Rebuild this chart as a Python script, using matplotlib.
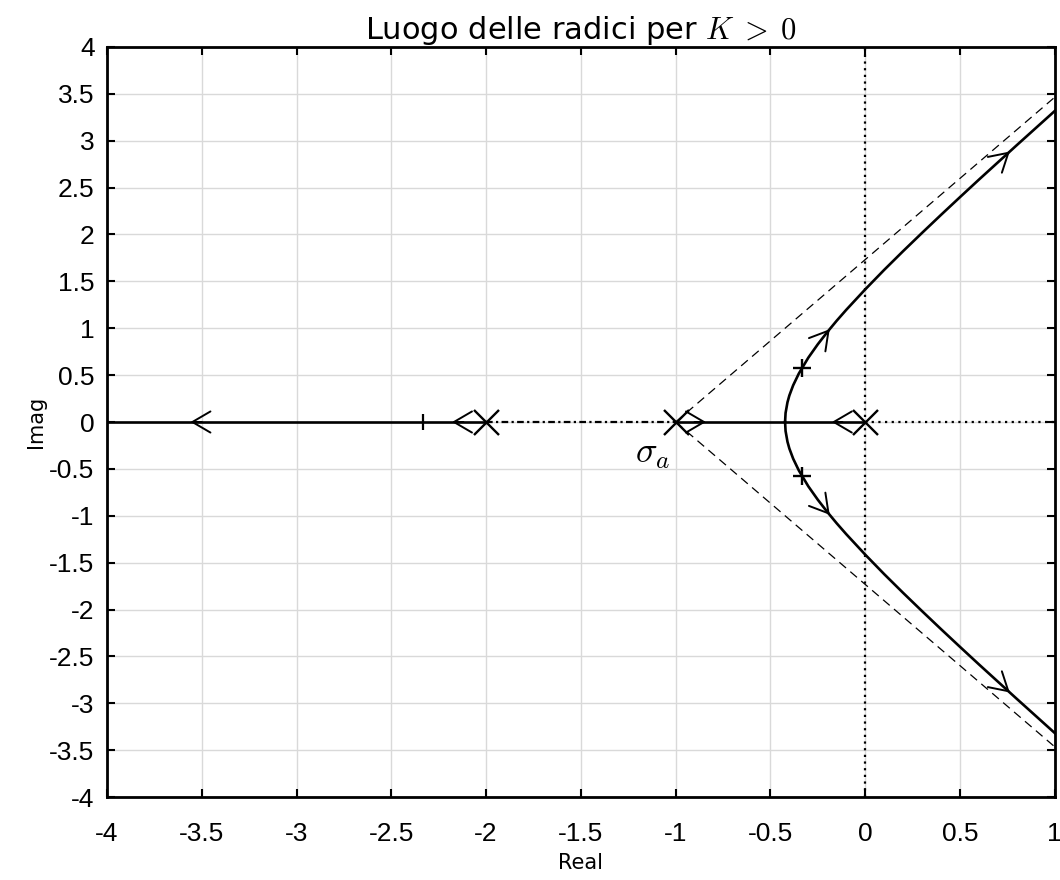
import matplotlib
matplotlib.use("Agg")
import matplotlib.pyplot as plt
import numpy as np

plt.rcParams['font.family'] = ['Liberation Sans', 'DejaVu Sans']
plt.rcParams['mathtext.fontset'] = 'cm'
plt.rcParams['axes.unicode_minus'] = False

# poli ad anello aperto
poli_re = [0.0, -1.0, -2.0]
poli_im = [0.0, 0.0, 0.0]

# ramo complesso superiore
ramo_re = [-0.4226, -0.42, -0.41, -0.40, -0.38, -0.35, -0.30, -0.25, -0.20, -0.15,
           -0.10, 0.0, 0.1, 0.2, 0.3, 0.4, 0.5, 0.6, 0.7, 0.8, 0.9, 1.0]
ramo_im = [0.0, 0.096, 0.210, 0.283, 0.391, 0.517, 0.686, 0.829, 0.959, 1.081,
           1.196, 1.414, 1.622, 1.822, 2.017, 2.209, 2.398, 2.585, 2.769, 2.953, 3.135, 3.317]

# asse reale
reale_sx = [-4.0, -2.0]
reale_centro = [-1.0, 0.0]
reale_tratto = [-2.0, -1.0]
reale_dx = [0.0, 1.0]

# asintoti
sigma_a = -1.0
asint_re = [-1.0, 1.0]
asint_im = [0.0, 3.464]

# punti per un valore di K
kp_re = [-0.333, -0.333]
kp_im = [0.577, -0.577]
kr_re = -2.333

# frecce (punta, coda)
frecce = [((-3.56, 0.0), (-3.50, 0.0)),
          ((-2.18, 0.0), (-2.12, 0.0)),
          ((-0.84, 0.0), (-0.90, 0.0)),
          ((-0.176, 0.0), (-0.12, 0.0)),
          ((-0.187, 0.99), (-0.197, 0.965)),
          ((0.763, 2.885), (0.753, 2.867)),
          ((-0.187, -0.99), (-0.197, -0.965)),
          ((0.763, -2.885), (0.753, -2.867))]

xticks = [-4, -3.5, -3, -2.5, -2, -1.5, -1, -0.5, 0, 0.5, 1]
yticks = [-4, -3.5, -3, -2.5, -2, -1.5, -1, -0.5, 0, 0.5, 1, 1.5, 2, 2.5, 3, 3.5, 4]

fig = plt.figure(figsize=(10.6, 8.8), dpi=100)
ax = fig.add_axes([0.101, 0.0943, 0.894, 0.8523])

ax.grid(True, color='#d9d9d9', linewidth=1.0)
ax.set_axisbelow(True)

# asse immaginario tratteggiato
ax.axvline(0, color='black', linewidth=1.6, linestyle=(0, (1, 2)))
ax.plot(reale_dx, [0, 0], color='black', linewidth=1.6, linestyle=(0, (1, 2)))
ax.plot(reale_tratto, [0, 0], color='black', linewidth=1.6, linestyle=(0, (3, 1.5, 1, 1.5)))

# asintoti
ax.plot(asint_re, asint_im, color='black', linewidth=0.9, linestyle=(0, (7, 4.5)))
ax.plot(asint_re, [-v for v in asint_im], color='black', linewidth=0.9, linestyle=(0, (7, 4.5)))

# luogo
ax.plot(reale_sx, [0, 0], color='black', linewidth=1.9)
ax.plot(reale_centro, [0, 0], color='black', linewidth=1.9)
ax.plot(ramo_re, ramo_im, color='black', linewidth=1.9)
ax.plot(ramo_re, [-v for v in ramo_im], color='black', linewidth=1.9)

for punta, coda in frecce:
    ax.annotate('', xy=punta, xytext=coda,
                arrowprops=dict(arrowstyle='->,head_length=0.65,head_width=0.38',
                                color='black', lw=1.4, mutation_scale=20,
                                shrinkA=0, shrinkB=0))

ax.plot(poli_re, poli_im, linestyle='none', marker='x', markersize=18,
        markeredgewidth=1.7, color='black')
ax.plot(kp_re, kp_im, linestyle='none', marker='+', markersize=13,
        markeredgewidth=1.7, color='black')
ax.plot([kr_re], [0], linestyle='none', marker='|', markersize=12,
        markeredgewidth=1.6, color='black')

ax.text(sigma_a - 0.03, -0.44, r'$\sigma_a$', fontsize=26, ha='right', va='baseline')

ax.set_xlim(-4, 1)
ax.set_ylim(-4, 4)
ax.set_xticks(xticks)
ax.set_xticklabels([f'{v:g}' for v in xticks])
ax.set_yticks(yticks)
ax.set_yticklabels([f'{v:g}' for v in yticks])
ax.tick_params(direction='in', length=6, width=1.5, labelsize=19,
               top=True, right=True)
ax.tick_params(axis='x', pad=18)
ax.tick_params(axis='y', pad=9)
for s in ax.spines.values():
    s.set_linewidth(2)

ax.set_xlabel('Real', fontsize=15, family=['DejaVu Sans'], labelpad=5)
ax.set_ylabel('Imag', fontsize=15, family=['DejaVu Sans'], labelpad=2)
ax.set_title(r'Luogo delle radici per $K\;>\;0$', fontsize=22,
             family=['DejaVu Sans'], pad=6)

fig.savefig('out.png', dpi=100)
